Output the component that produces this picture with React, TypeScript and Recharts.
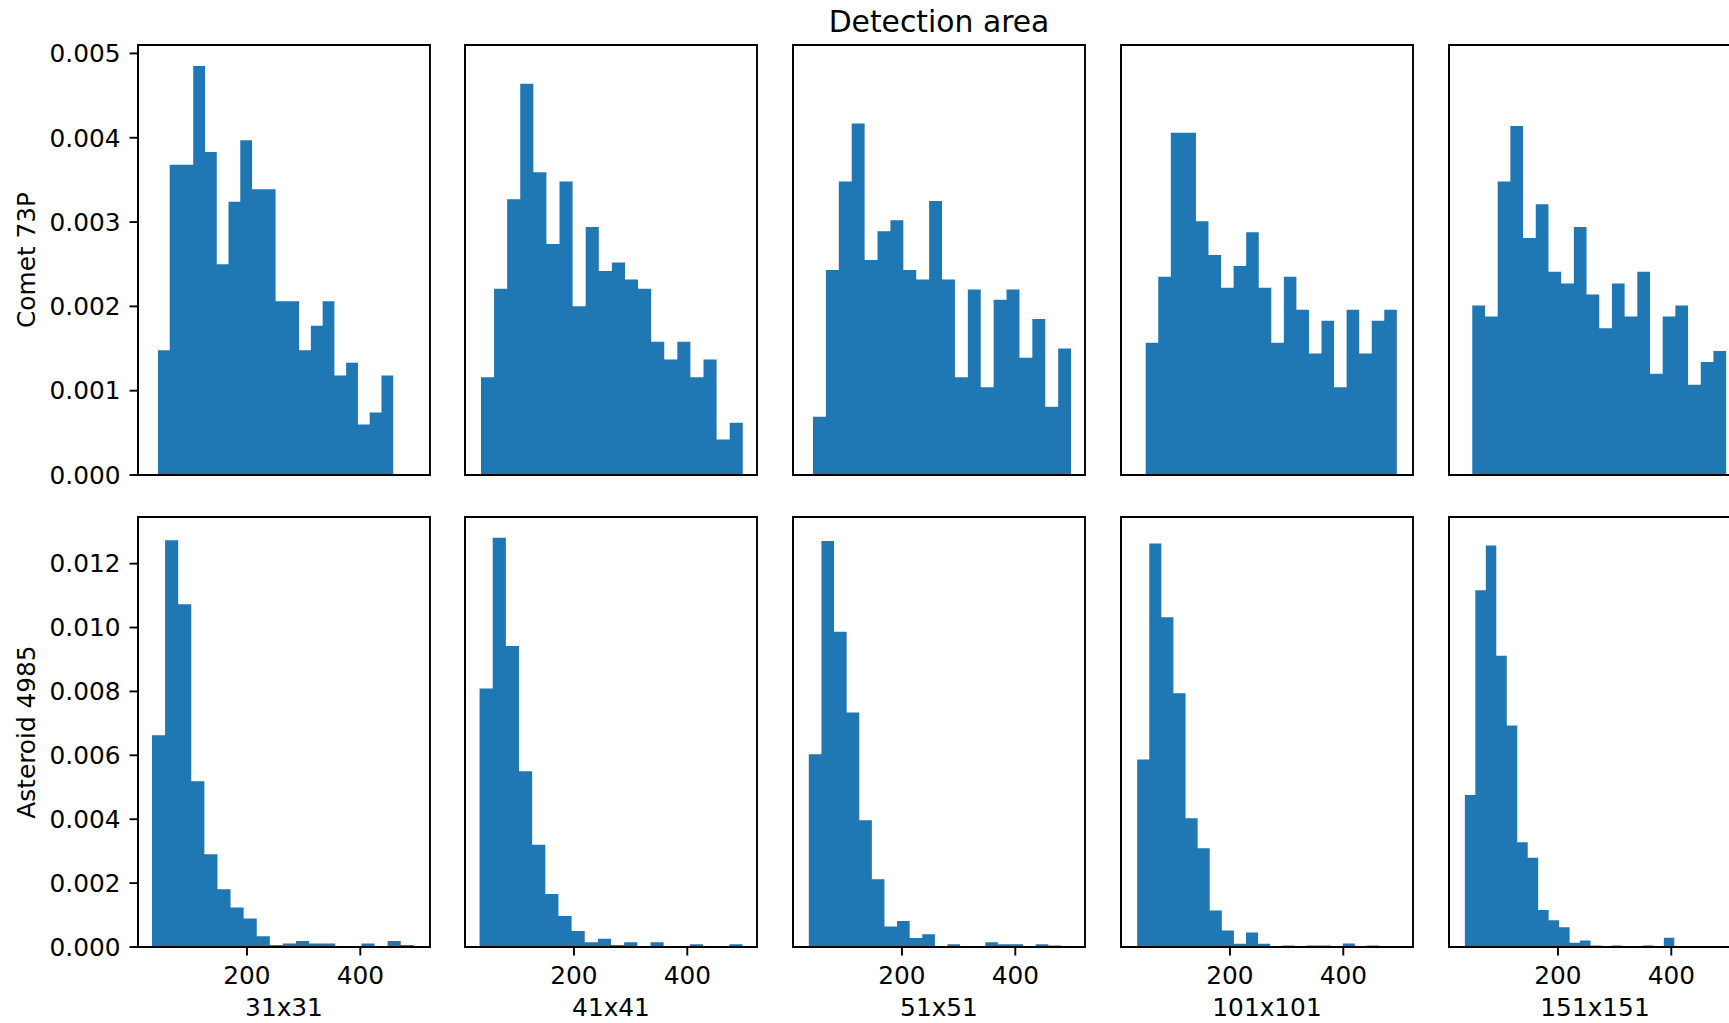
import { AreaChart, Area, XAxis, YAxis, ReferenceArea } from 'recharts'

const areaLabels = ['31x31', '41x41', '51x51', '101x101', '151x151']
const rowLabels = ['Comet 73P', 'Asteroid 4985']

// left edge of first bin and bin width for each detection area
const cometBinStart = [42.9, 35.9, 43.0, 51.3, 48.8]
const cometBinWidth = [20.76, 23.1, 22.77, 22.16, 22.4]
const asteroidBinStart = [32.4, 33.4, 35.6, 36.2, 35.7]
const asteroidBinWidth = [23.1, 23.2, 22.25, 21.34, 18.48]

// densities, 20 bins each
const comet31 = [0.00148, 0.00368, 0.00368, 0.00485, 0.00383, 0.0025, 0.00324, 0.00397, 0.00339, 0.00339, 0.00206, 0.00206, 0.00148, 0.00177, 0.00206, 0.00118, 0.00133, 0.0006, 0.00074, 0.00118]
const comet41 = [0.00116, 0.00221, 0.00327, 0.00464, 0.00359, 0.00274, 0.00348, 0.002, 0.00294, 0.00242, 0.00252, 0.00232, 0.00221, 0.00158, 0.00137, 0.00158, 0.00116, 0.00137, 0.00042, 0.00062]
const comet51 = [0.00069, 0.00243, 0.00348, 0.00417, 0.00255, 0.00289, 0.00302, 0.00243, 0.00232, 0.00325, 0.00232, 0.00116, 0.0022, 0.00104, 0.00208, 0.0022, 0.00139, 0.00185, 0.00081, 0.0015]
const comet101 = [0.00157, 0.00235, 0.00406, 0.00406, 0.00301, 0.00261, 0.00222, 0.00248, 0.00288, 0.00222, 0.00157, 0.00235, 0.00196, 0.00144, 0.00183, 0.00104, 0.00196, 0.00144, 0.00183, 0.00196]
const comet151 = [0.00201, 0.00188, 0.00348, 0.00414, 0.00281, 0.00321, 0.00241, 0.00227, 0.00294, 0.00214, 0.00174, 0.00227, 0.00188, 0.00241, 0.0012, 0.00188, 0.00201, 0.00107, 0.00134, 0.00147]

const asteroid31 = [0.00663, 0.01273, 0.01073, 0.00519, 0.0029, 0.00181, 0.00124, 0.00089, 0.00034, 0.00006, 0.00011, 0.00019, 0.00011, 0.00011, 0, 0, 0.00011, 0, 0.00019, 0.00006]
const asteroid41 = [0.00809, 0.01281, 0.00942, 0.0055, 0.0032, 0.00166, 0.00097, 0.0005, 0.00015, 0.00026, 0.00006, 0.00015, 0, 0.00015, 0, 0, 0.00009, 0, 0, 0.00009]
const asteroid51 = [0.00603, 0.01271, 0.00987, 0.00734, 0.00397, 0.00212, 0.00064, 0.00081, 0.00028, 0.0004, 0, 0.00009, 0, 0, 0.00015, 0.00009, 0.00009, 0, 0.00009, 0.00005]
const asteroid101 = [0.00587, 0.01263, 0.01032, 0.00794, 0.00403, 0.00309, 0.00114, 0.00052, 0.0001, 0.00045, 0.0001, 0, 0.00005, 0, 0.00005, 0.00005, 0, 0.00011, 0, 0.00005]
const asteroid151 = [0.00476, 0.01117, 0.01257, 0.00912, 0.00693, 0.00328, 0.00279, 0.00116, 0.00084, 0.00062, 0.00013, 0.0002, 0.00005, 0, 0.00005, 0, 0, 0.00005, 0, 0.00029]

const cometRows = [comet31, comet41, comet51, comet101, comet151]
const asteroidRows = [asteroid31, asteroid41, asteroid51, asteroid101, asteroid151]

const xTicks = [200, 400]
const cometTicks = [0, 0.001, 0.002, 0.003, 0.004, 0.005]
const asteroidTicks = [0, 0.002, 0.004, 0.006, 0.008, 0.01, 0.012]

const X_DOMAIN: [number, number] = [7.7, 523]
const COMET_MAX = 0.0051
const ASTEROID_MAX = 0.01346

const BLUE = '#1f77b4'
const FONT = 24.8
const PLOT_W = 292
const PLOT_H = 430
const Y_AXIS_W = 130
const X_AXIS_H = 80
const TOP_PAD = 50
const colLeft = [137.5, 465.25, 793, 1120.75, 1448.5]
const rowTop = [45, 517]

function histData(start: number, width: number, heights: number[]) {
  const pts = heights.map((h, i) => ({ x: start + i * width, y: h }))
  pts.push({ x: start + heights.length * width, y: heights[heights.length - 1] })
  return pts
}

interface PanelProps {
  data: { x: number; y: number }[]
  left: number
  top: number
  yMax: number
  yTicks: number[]
  yLabel?: string
  xLabel?: string
}

function Panel({ data, left, top, yMax, yTicks, yLabel, xLabel }: PanelProps) {
  return (
    <div style={{ position: 'absolute', left: left - Y_AXIS_W, top: top - TOP_PAD }}>
      <AreaChart
        width={Y_AXIS_W + PLOT_W + 10}
        height={TOP_PAD + PLOT_H + X_AXIS_H}
        data={data}
        margin={{ top: TOP_PAD, right: 10, bottom: 0, left: 0 }}
      >
        <XAxis
          dataKey="x"
          type="number"
          domain={X_DOMAIN}
          ticks={xTicks}
          interval={0}
          height={X_AXIS_H}
          tickSize={8.5}
          tickMargin={10.5}
          tick={xLabel ? { fontSize: FONT, fill: '#000' } : false}
          stroke="#000"
          strokeWidth={1.9}
          label={xLabel ? { value: xLabel, position: 'insideBottom', offset: 11, fontSize: FONT, fill: '#000' } : undefined}
        />
        <YAxis
          type="number"
          domain={[0, yMax]}
          ticks={yTicks}
          interval={0}
          width={Y_AXIS_W}
          tickSize={8.5}
          tickMargin={9}
          tick={yLabel ? { fontSize: FONT, fill: '#000' } : false}
          tickFormatter={(v: number) => v.toFixed(3)}
          stroke="#000"
          strokeWidth={1.9}
          label={yLabel ? { value: yLabel, angle: -90, position: 'insideLeft', offset: 18, fontSize: FONT, fill: '#000', style: { textAnchor: 'middle' } } : undefined}
        />
        <Area
          type="stepAfter"
          dataKey="y"
          stroke="none"
          fill={BLUE}
          fillOpacity={1}
          dot={false}
          activeDot={false}
          isAnimationActive={false}
        />
        <ReferenceArea x1={X_DOMAIN[0]} x2={X_DOMAIN[1]} y1={0} y2={yMax} fill="none" stroke="#000" strokeWidth={1.9} />
      </AreaChart>
    </div>
  )
}

export default function App() {
  return (
    <div
      style={{
        position: 'absolute',
        left: 0,
        top: 0,
        width: 1729,
        height: 1023,
        overflow: 'hidden',
        background: '#fff',
        fontFamily: '"DejaVu Sans", sans-serif',
      }}
    >
      <div
        style={{
          position: 'absolute',
          left: colLeft[2],
          top: 6.5,
          width: PLOT_W,
          textAlign: 'center',
          fontSize: 29.8,
          lineHeight: 1,
          color: '#000',
        }}
      >
        Detection area
      </div>
      {cometRows.map((heights, i) => (
        <Panel
          key={'c' + i}
          data={histData(cometBinStart[i], cometBinWidth[i], heights)}
          left={colLeft[i]}
          top={rowTop[0]}
          yMax={COMET_MAX}
          yTicks={cometTicks}
          yLabel={i === 0 ? rowLabels[0] : undefined}
        />
      ))}
      {asteroidRows.map((heights, i) => (
        <Panel
          key={'a' + i}
          data={histData(asteroidBinStart[i], asteroidBinWidth[i], heights)}
          left={colLeft[i]}
          top={rowTop[1]}
          yMax={ASTEROID_MAX}
          yTicks={asteroidTicks}
          yLabel={i === 0 ? rowLabels[1] : undefined}
          xLabel={areaLabels[i]}
        />
      ))}
    </div>
  )
}
